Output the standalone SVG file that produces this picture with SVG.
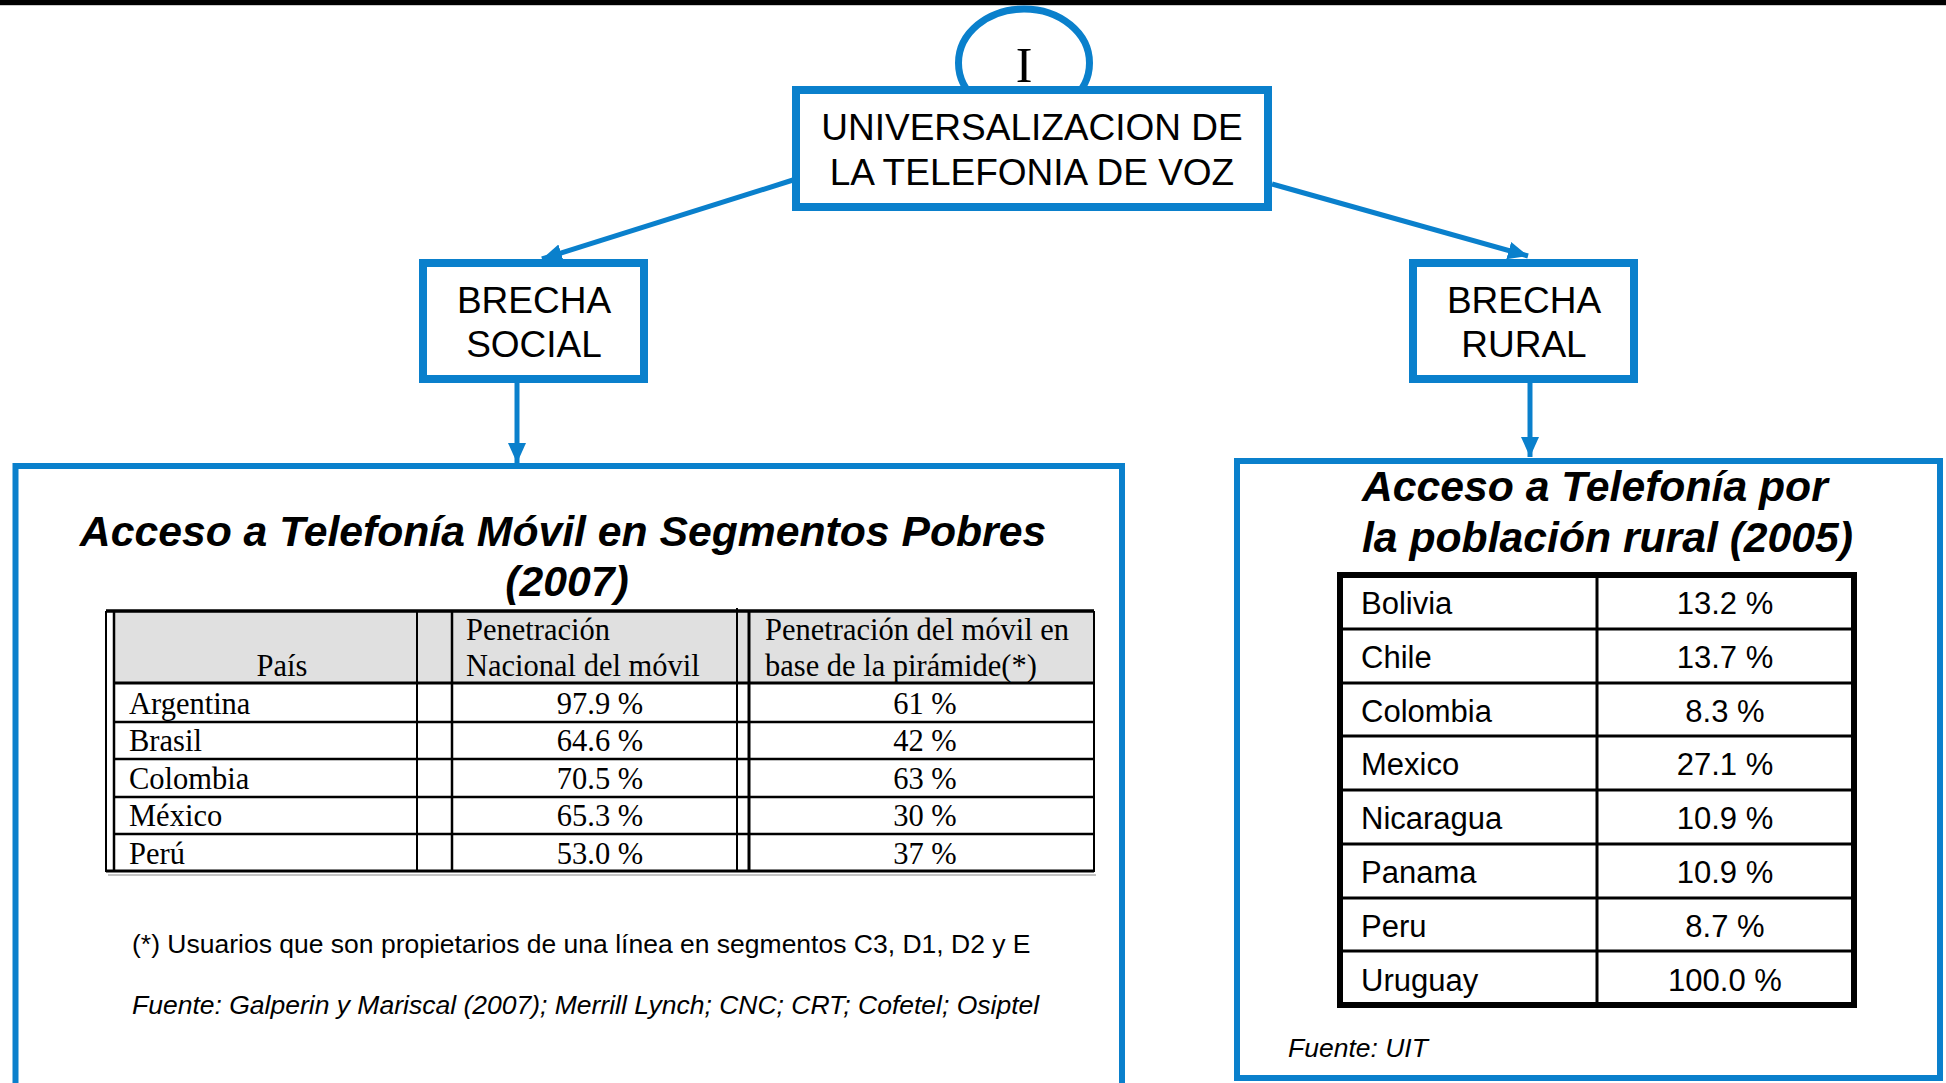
<svg xmlns="http://www.w3.org/2000/svg" width="1946" height="1083" viewBox="0 0 1946 1083">
<style>
.bx{fill:#fff;stroke:#0A80CC;stroke-width:8}
.pn{fill:none;stroke:#0A80CC;stroke-width:6}
.cn{fill:none;stroke:#0A80CC;stroke-width:5}
.nt{font-family:"Liberation Sans",Arial,sans-serif;font-size:37px;fill:#000;text-anchor:middle}
.tt{font-family:"Liberation Sans",Arial,sans-serif;font-size:42.7px;font-weight:bold;font-style:italic;fill:#000}
.tm{font-family:"Liberation Serif","Times New Roman",serif;font-size:30.5px;fill:#000}
.rs{font-family:"Liberation Sans",Arial,sans-serif;font-size:31px;fill:#000}
.ft{font-family:"Liberation Sans",Arial,sans-serif;font-size:26.5px;fill:#000}
.tl{stroke:#000;fill:none}
</style>
<defs>
<marker id="ah" markerUnits="userSpaceOnUse" markerWidth="22" markerHeight="20" viewBox="0 0 22 20" refX="20" refY="10" orient="auto">
<path d="M0,1 L20,10 L0,19 Z" fill="#0A80CC"/>
</marker>
</defs>
<rect x="0" y="0" width="1946" height="5" fill="#000"/>
<line x1="0" y1="5.5" x2="1946" y2="5.5" stroke="#ccc" stroke-width="1"/>

<g id="connectors">
<line class="cn" x1="793" y1="180" x2="542" y2="259" marker-end="url(#ah)"/>
<line class="cn" x1="1272" y1="184" x2="1528" y2="256" marker-end="url(#ah)"/>
<line class="cn" x1="517" y1="383" x2="517" y2="463" marker-end="url(#ah)"/>
<line class="cn" x1="1530" y1="383" x2="1530" y2="457" marker-end="url(#ah)"/>
</g>

<g id="node-top">
<ellipse cx="1024" cy="63" rx="65.5" ry="54" fill="#fff" stroke="#0A80CC" stroke-width="7"/>
<text x="1024" y="82" font-family="'Liberation Serif','Times New Roman',serif" font-size="50" text-anchor="middle">I</text>
<rect class="bx" x="796" y="90" width="472" height="117"/>
<text class="nt" x="1032" y="140">UNIVERSALIZACION DE</text>
<text class="nt" x="1032" y="185">LA TELEFONIA DE VOZ</text>
</g>

<g id="node-social">
<rect class="bx" x="423" y="263" width="221" height="116"/>
<text class="nt" x="534" y="313">BRECHA</text>
<text class="nt" x="534" y="357">SOCIAL</text>
</g>

<g id="node-rural">
<rect class="bx" x="1413" y="263" width="221" height="116"/>
<text class="nt" x="1524" y="313">BRECHA</text>
<text class="nt" x="1524" y="357">RURAL</text>
</g>

<g id="panel-social">
<path class="pn" d="M15.5,1090 V466 H1122 V1090"/>
<text class="tt" x="563" y="546" text-anchor="middle">Acceso a Telefonía Móvil en Segmentos Pobres</text>
<text class="tt" x="567" y="596" text-anchor="middle">(2007)</text>
<rect x="114" y="612" width="980" height="71" fill="#E0E0E0"/>
<g class="tl">
<line x1="106" y1="611" x2="1094" y2="611" stroke-width="3.5"/>
<line x1="106" y1="611" x2="106" y2="872" stroke-width="2"/>
<line x1="114" y1="611" x2="114" y2="872" stroke-width="2.5"/>
<line x1="417" y1="611" x2="417" y2="872" stroke-width="2"/>
<line x1="452" y1="611" x2="452" y2="872" stroke-width="2.5"/>
<line x1="737" y1="608" x2="737" y2="872" stroke-width="2"/>
<line x1="749" y1="611" x2="749" y2="872" stroke-width="3"/>
<line x1="1094" y1="611" x2="1094" y2="872" stroke-width="2"/>
<line x1="114" y1="683" x2="1094" y2="683" stroke-width="3"/>
<line x1="114" y1="722" x2="1094" y2="722" stroke-width="2.5"/>
<line x1="114" y1="759" x2="1094" y2="759" stroke-width="2.5"/>
<line x1="114" y1="797" x2="1094" y2="797" stroke-width="2.5"/>
<line x1="114" y1="834" x2="1094" y2="834" stroke-width="2.5"/>
<line x1="106" y1="871" x2="1094" y2="871" stroke-width="3"/>
<line x1="108" y1="875" x2="1096" y2="875" stroke-width="1" stroke="#888"/>
</g>
<text class="tm" x="282" y="676" text-anchor="middle">País</text>
<text class="tm" x="466" y="640">Penetración</text>
<text class="tm" x="466" y="676">Nacional del móvil</text>
<text class="tm" x="765" y="640">Penetración del móvil en</text>
<text class="tm" x="765" y="676">base de la pirámide(*)</text>
<text class="tm" x="129" y="714">Argentina</text>
<text class="tm" x="129" y="751">Brasil</text>
<text class="tm" x="129" y="789">Colombia</text>
<text class="tm" x="129" y="826">México</text>
<text class="tm" x="129" y="864">Perú</text>
<g text-anchor="middle">
<text class="tm" x="600" y="714">97.9 %</text>
<text class="tm" x="600" y="751">64.6 %</text>
<text class="tm" x="600" y="789">70.5 %</text>
<text class="tm" x="600" y="826">65.3 %</text>
<text class="tm" x="600" y="864">53.0 %</text>
<text class="tm" x="925" y="714">61 %</text>
<text class="tm" x="925" y="751">42 %</text>
<text class="tm" x="925" y="789">63 %</text>
<text class="tm" x="925" y="826">30 %</text>
<text class="tm" x="925" y="864">37 %</text>
</g>
<text class="ft" x="132" y="953">(*) Usuarios que son propietarios de una línea en segmentos C3, D1, D2 y E</text>
<text class="ft" x="132" y="1014" font-style="italic" font-size="26.8">Fuente: Galperin y Mariscal (2007); Merrill Lynch; CNC; CRT; Cofetel; Osiptel</text>
</g>

<g id="panel-rural">
<rect class="pn" x="1237" y="461" width="703" height="617"/>
<text class="tt" x="1362" y="501">Acceso a Telefonía por</text>
<text class="tt" x="1362" y="552">la población rural (2005)</text>
<rect x="1340" y="575" width="514" height="430" fill="none" stroke="#000" stroke-width="6"/>
<g class="tl" stroke-width="3">
<line x1="1597" y1="575" x2="1597" y2="1005"/>
<line x1="1340" y1="629" x2="1854" y2="629"/>
<line x1="1340" y1="683" x2="1854" y2="683"/>
<line x1="1340" y1="736" x2="1854" y2="736"/>
<line x1="1340" y1="790" x2="1854" y2="790"/>
<line x1="1340" y1="844" x2="1854" y2="844"/>
<line x1="1340" y1="898" x2="1854" y2="898"/>
<line x1="1340" y1="951" x2="1854" y2="951"/>
</g>
<text class="rs" x="1361" y="614">Bolivia</text>
<text class="rs" x="1361" y="668">Chile</text>
<text class="rs" x="1361" y="722">Colombia</text>
<text class="rs" x="1361" y="775">Mexico</text>
<text class="rs" x="1361" y="829">Nicaragua</text>
<text class="rs" x="1361" y="883">Panama</text>
<text class="rs" x="1361" y="937">Peru</text>
<text class="rs" x="1361" y="991">Uruguay</text>
<g text-anchor="middle">
<text class="rs" x="1725" y="614">13.2 %</text>
<text class="rs" x="1725" y="668">13.7 %</text>
<text class="rs" x="1725" y="722">8.3 %</text>
<text class="rs" x="1725" y="775">27.1 %</text>
<text class="rs" x="1725" y="829">10.9 %</text>
<text class="rs" x="1725" y="883">10.9 %</text>
<text class="rs" x="1725" y="937">8.7 %</text>
<text class="rs" x="1725" y="991">100.0 %</text>
</g>
<text class="ft" x="1288" y="1057" font-style="italic">Fuente: UIT</text>
</g>
</svg>
